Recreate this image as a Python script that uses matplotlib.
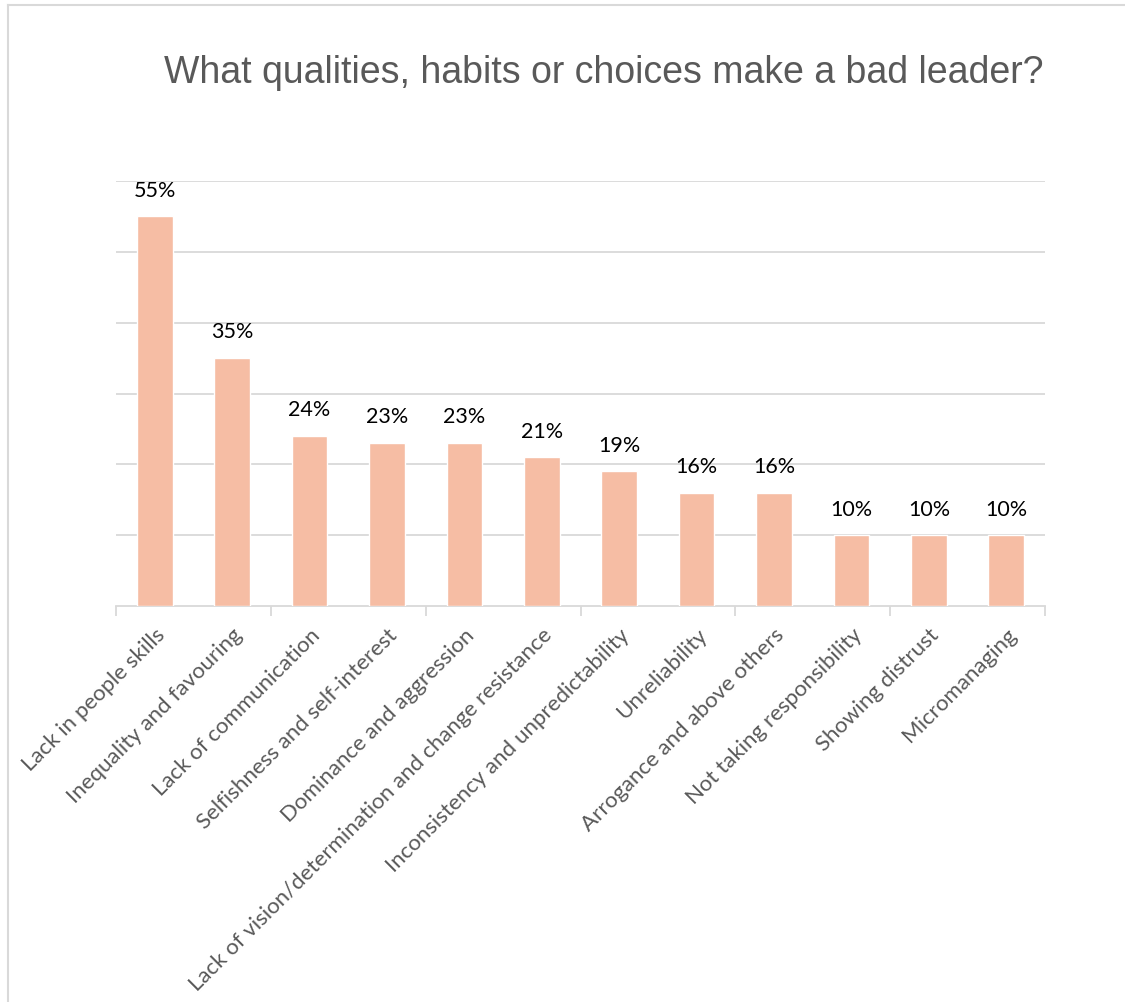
import matplotlib
matplotlib.use("Agg")
import matplotlib.pyplot as plt
import numpy as np

# survey results
categories = ["Lack in people skills", "Inequality and favouring", "Lack of communication",
              "Selfishness and self-interest", "Dominance and aggression",
              "Lack of vision/determination and change resistance",
              "Inconsistency and unpredictability", "Unreliability",
              "Arrogance and above others", "Not taking responsibility",
              "Showing distrust", "Micromanaging"]
values = [55, 35, 24, 23, 23, 21, 19, 16, 16, 10, 10, 10]
title = "What qualities, habits or choices make a bad leader?"

grey = "#d9d9d9"
txt = "#595959"

fig = plt.figure(figsize=(11.25, 10.03), dpi=100)
ax = fig.add_axes([0.1031, 0.3948, 0.8258, 0.4237])

x = np.arange(len(values))
ax.bar(x, values, width=0.46, color="#F6BDA4", edgecolor="white", linewidth=1, zorder=3)

for xi, v in zip(x, values):
    ax.annotate(f"{v}%", (xi, v), xytext=(0, 12), textcoords="offset points",
                ha="center", va="bottom", fontsize=15.5, family="Lato", color="black")

ax.set_xlim(-0.5, len(values) - 0.5)
ax.set_ylim(0, 60)
ax.set_yticks(np.arange(10, 61, 10))
ax.yaxis.grid(True, color=grey, linewidth=1.3, zorder=0)
ax.tick_params(axis="y", length=0, labelleft=False)

# ticks every second category boundary
ax.set_xticks(np.arange(-0.5, len(values), 2))
ax.set_xticklabels([])
ax.set_xticks(x, minor=True)
ax.set_xticklabels(categories, minor=True, rotation=45, ha="right", rotation_mode="anchor",
                   fontsize=16, family="Lato", color=txt)
ax.tick_params(axis="x", which="major", length=7, width=1.3, color=grey)
ax.tick_params(axis="x", which="minor", length=0, pad=13)

for s in ["top", "right", "left"]:
    ax.spines[s].set_visible(False)
ax.spines["bottom"].set_color(grey)
ax.spines["bottom"].set_linewidth(1.3)

fig.text(0.537, 0.927, title, ha="center", va="center", fontsize=27,
         family="Liberation Sans", color=txt)

# chart frame
fig.add_artist(plt.Line2D([8 / 1125, 8 / 1125], [0, 1 - 6 / 1003], transform=fig.transFigure,
                          color=grey, linewidth=1.5))
fig.add_artist(plt.Line2D([8 / 1125, 1], [1 - 6 / 1003, 1 - 6 / 1003], transform=fig.transFigure,
                          color=grey, linewidth=1.5))

fig.savefig("out.png", dpi=100, facecolor="white")
